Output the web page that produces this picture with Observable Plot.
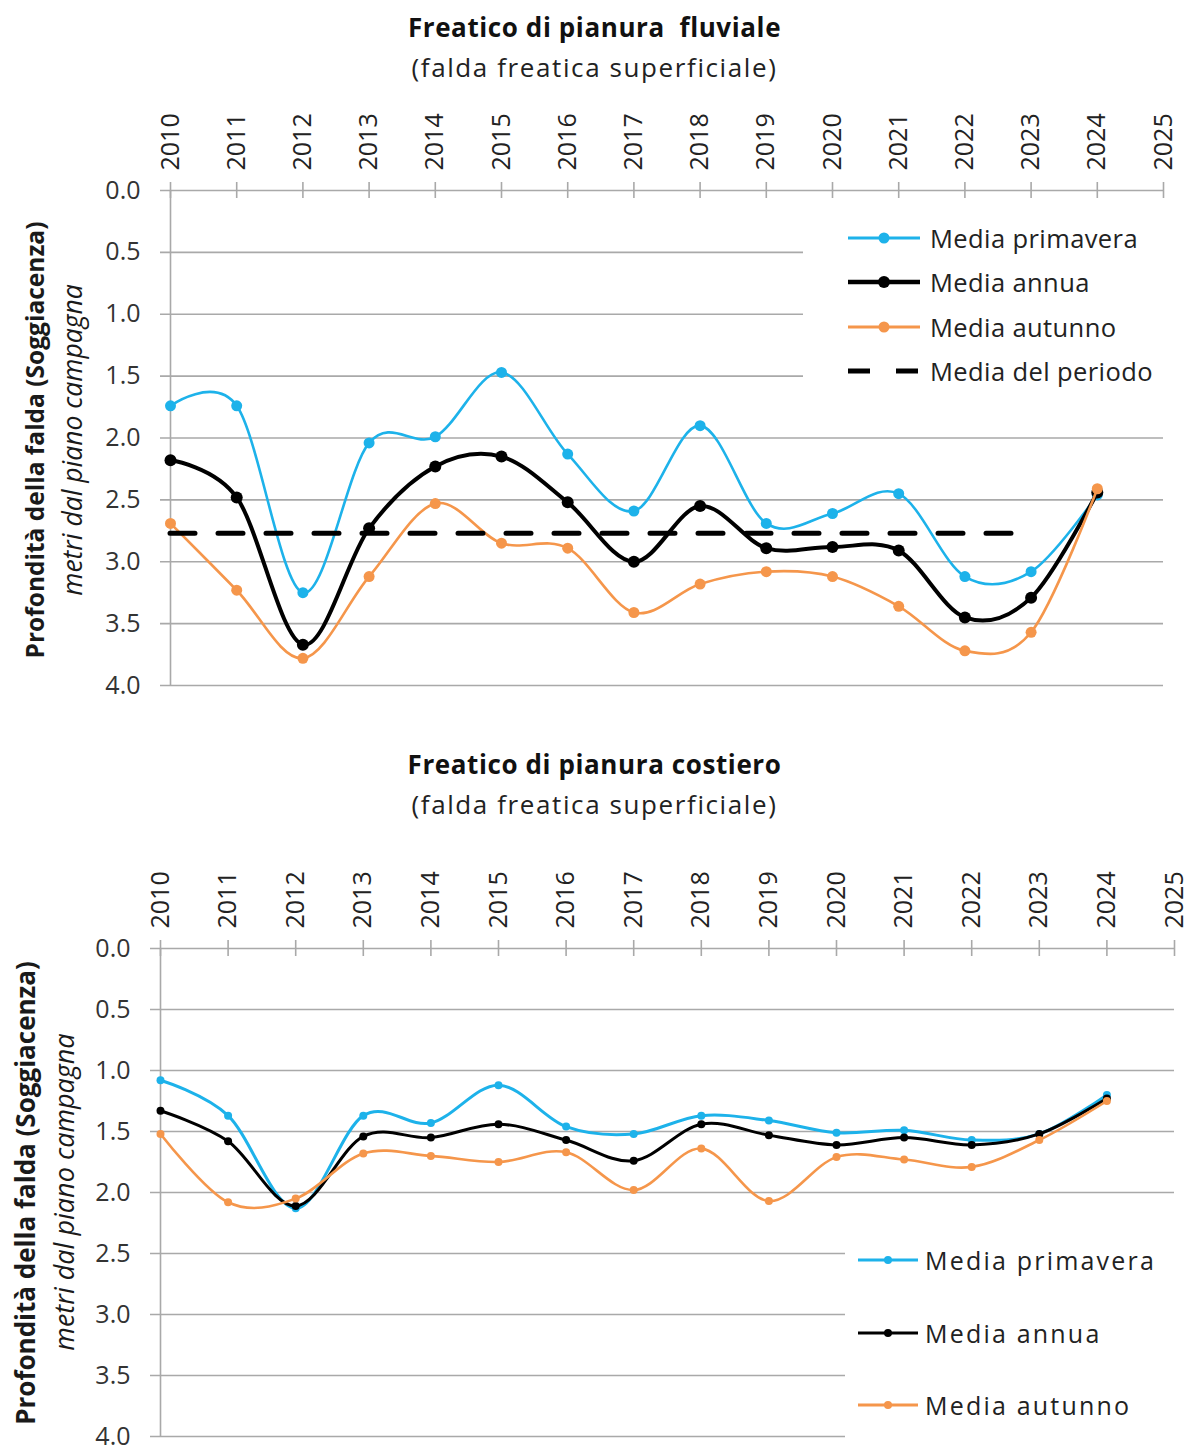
<!DOCTYPE html>
<html>
<head>
<meta charset="utf-8">
<script src="https://cdn.jsdelivr.net/npm/d3@7"></script>
<script src="https://cdn.jsdelivr.net/npm/@observablehq/plot@0.6"></script>
<style>
  body { margin:0; width:1189px; height:1446px; position:relative; background:#fff; font-family:'Open Sans', sans-serif; color:#1a1a1a; overflow:hidden; }
  .abs { position:absolute; }
  .title { position:absolute; left:0; width:1189px; text-align:center; font-weight:bold; font-size:26px; line-height:34px; white-space:pre; color:#111; letter-spacing:0.6px; }
  .subtitle { position:absolute; left:0; width:1189px; text-align:center; font-size:26px; line-height:34px; color:#222; letter-spacing:1.6px; }
  .ytitle { position:absolute; text-align:center; transform:rotate(-90deg); transform-origin:center center; white-space:nowrap; line-height:32px; }
  .legend { position:absolute; background:#fff; }
  .legend .row { display:flex; align-items:center; color:#222; }
  .legend svg { display:block; flex:none; }
</style>
</head>
<body>
<div class="title" style="top:10px">Freatico di pianura  fluviale</div>
<div class="subtitle" style="top:50px">(falda freatica superficiale)</div>
<div class="title" style="top:747px">Freatico di pianura costiero</div>
<div class="subtitle" style="top:787px">(falda freatica superficiale)</div>

<div id="chart1" class="abs" style="left:0;top:95px"></div>
<div id="chart2" class="abs" style="left:0;top:840px"></div>

<div class="ytitle" style="left:-215px;top:424px;width:500px;font-weight:bold;font-size:24.5px;">Profondità della falda (Soggiacenza)</div>
<div class="ytitle" style="left:-178px;top:424px;width:500px;font-style:italic;font-size:26.5px;">metri dal piano campagna</div>
<div class="ytitle" style="left:-225px;top:1177px;width:500px;font-weight:bold;font-size:26px;letter-spacing:0px;">Profondità della falda (Soggiacenza)</div>
<div class="ytitle" style="left:-186px;top:1176px;width:500px;font-style:italic;font-size:27px;">metri dal piano campagna</div>

<div id="legend1" class="legend" style="left:803px;top:200px;width:386px;height:200px;"></div>
<div id="legend2" class="legend" style="left:845px;top:1215px;width:330px;height:231px;"></div>

<script>
// ---------------- DATA ----------------
const years = [2010, 2011, 2012, 2013, 2014, 2015, 2016, 2017, 2018, 2019, 2020, 2021, 2022, 2023, 2024];
const axisYears = [2010, 2011, 2012, 2013, 2014, 2015, 2016, 2017, 2018, 2019, 2020, 2021, 2022, 2023, 2024, 2025];
const yTicks = [0, 0.5, 1, 1.5, 2, 2.5, 3, 3.5, 4];

// Freatico di pianura fluviale
const fluvPrimavera = [1.74, 1.74, 3.25, 2.04, 1.99, 1.47, 2.13, 2.59, 1.90, 2.69, 2.61, 2.45, 3.12, 3.08, 2.46];
const fluvAnnua     = [2.18, 2.48, 3.67, 2.73, 2.23, 2.15, 2.52, 3.00, 2.55, 2.89, 2.88, 2.91, 3.45, 3.29, 2.44];
const fluvAutunno   = [2.69, 3.23, 3.78, 3.12, 2.53, 2.85, 2.89, 3.41, 3.18, 3.08, 3.12, 3.36, 3.72, 3.57, 2.41];
const fluvMediaPeriodo = 2.77;
const mediaPeriodoYears = [2010, 2023];

// Freatico di pianura costiero
const costPrimavera = [1.08, 1.37, 2.13, 1.37, 1.43, 1.12, 1.46, 1.52, 1.37, 1.41, 1.51, 1.49, 1.57, 1.52, 1.20];
const costAnnua     = [1.33, 1.58, 2.11, 1.54, 1.55, 1.44, 1.57, 1.74, 1.44, 1.53, 1.61, 1.55, 1.61, 1.52, 1.23];
const costAutunno   = [1.52, 2.08, 2.05, 1.68, 1.70, 1.75, 1.67, 1.98, 1.64, 2.07, 1.71, 1.73, 1.79, 1.57, 1.25];

const seriesNames = ["Media primavera", "Media annua", "Media autunno", "Media del periodo"];
const colors = { "Media primavera": "#1db2ea", "Media annua": "#000000", "Media autunno": "#f5964b", "Media del periodo": "#000000" };

// ---------------- CHART ----------------
const GRID = "#a9a9a9";
function toRows(vals) { return years.map((y, i) => ({ year: y, value: vals[i] })); }

function makeChart(cfg) {
  const marks = [
    Plot.ruleY(yTicks, { y: d => d, stroke: GRID, strokeWidth: 1.6, insetLeft: -10 }),
    Plot.ruleX(axisYears, { x: d => d, y1: 0, y2: 0, insetTop: -8, insetBottom: -8, stroke: GRID, strokeWidth: 1.6 }),
    Plot.ruleX([axisYears[0]], { x: d => d, stroke: GRID, strokeWidth: 1.6 }),
    Plot.axisX(axisYears, { anchor: "top", tickRotate: -90, tickSize: 0, tickPadding: 20, fontSize: 25, tickFormat: d => String(d), fill: "#222" }),
    Plot.axisY(yTicks, { anchor: "left", tickSize: 0, tickPadding: 30, fontSize: 25, tickFormat: d3.format(".1f"), fill: "#333" })
  ];
  cfg.series.forEach(s => {
    const rows = toRows(s.values);
    marks.push(Plot.line(rows, { x: "year", y: "value", stroke: colors[s.name], strokeWidth: s.width, curve: "cardinal" }));
    marks.push(Plot.dot(rows, { x: "year", y: "value", fill: colors[s.name], r: s.r }));
  });
  if (cfg.mean != null) {
    marks.push(Plot.ruleY([cfg.mean], { y: d => d, x1: mediaPeriodoYears[0], x2: mediaPeriodoYears[1], stroke: "#000", strokeWidth: 5, strokeDasharray: "25 23", strokeLinecap: "round" }));
  }
  return Plot.plot({
    width: 1189,
    height: cfg.height,
    marginLeft: cfg.marginLeft,
    marginRight: cfg.marginRight,
    marginTop: cfg.marginTop,
    marginBottom: cfg.marginBottom,
    style: { fontFamily: "'Open Sans', sans-serif", background: "transparent", overflow: "visible" },
    x: { domain: [2010, 2025], label: null },
    y: { domain: [0, 4], reverse: true, label: null },
    marks
  });
}

document.getElementById("chart1").appendChild(makeChart({
  height: 605, marginLeft: 170, marginRight: 26, marginTop: 95, marginBottom: 15,
  series: [
    { name: "Media primavera", values: fluvPrimavera, width: 2.6, r: 5.5 },
    { name: "Media annua", values: fluvAnnua, width: 4, r: 6 },
    { name: "Media autunno", values: fluvAutunno, width: 2.6, r: 5.5 }
  ],
  mean: fluvMediaPeriodo
}));

document.getElementById("chart2").appendChild(makeChart({
  height: 606, marginLeft: 160, marginRight: 15, marginTop: 108, marginBottom: 10,
  series: [
    { name: "Media primavera", values: costPrimavera, width: 3, r: 4 },
    { name: "Media annua", values: costAnnua, width: 3, r: 4 },
    { name: "Media autunno", values: costAutunno, width: 2.6, r: 4 }
  ],
  mean: null
}));

// ---------------- LEGENDS ----------------
function legendSample(name, w, strokeW, r, dashed) {
  const c = colors[name];
  if (dashed) {
    return `<svg width="${w}" height="20"><line x1="0" y1="10" x2="${w}" y2="10" stroke="${c}" stroke-width="5" stroke-dasharray="22 26"/></svg>`;
  }
  return `<svg width="${w}" height="20"><line x1="0" y1="10" x2="${w}" y2="10" stroke="${c}" stroke-width="${strokeW}"/><circle cx="${w/2}" cy="10" r="${r}" fill="${c}"/></svg>`;
}
function buildLegend(el, items, opts) {
  el.innerHTML = items.map(it =>
    `<div class="row" style="height:${opts.rowH}px;padding-left:${opts.padL}px;font-size:${opts.fontSize}px;letter-spacing:${opts.ls}px">` +
    legendSample(it.name, opts.sampleW, it.width, it.r, it.dashed) +
    `<span style="margin-left:${opts.gap}px">${it.name}</span></div>`).join("");
  el.style.paddingTop = opts.padT + "px";
  el.style.boxSizing = "border-box";
}
buildLegend(document.getElementById("legend1"), [
  { name: seriesNames[0], width: 3, r: 5.5 },
  { name: seriesNames[1], width: 4.5, r: 6 },
  { name: seriesNames[2], width: 3, r: 5.5 },
  { name: seriesNames[3], dashed: true }
], { rowH: 44.3, padL: 45, padT: 16, sampleW: 72, gap: 10, fontSize: 25.5, ls: 0.4 });

buildLegend(document.getElementById("legend2"), [
  { name: seriesNames[0], width: 3, r: 4 },
  { name: seriesNames[1], width: 3, r: 4 },
  { name: seriesNames[2], width: 3, r: 4 }
], { rowH: 72.5, padL: 13, padT: 9, sampleW: 60, gap: 7, fontSize: 25, ls: 2.2 });
</script>
</body>
</html>
